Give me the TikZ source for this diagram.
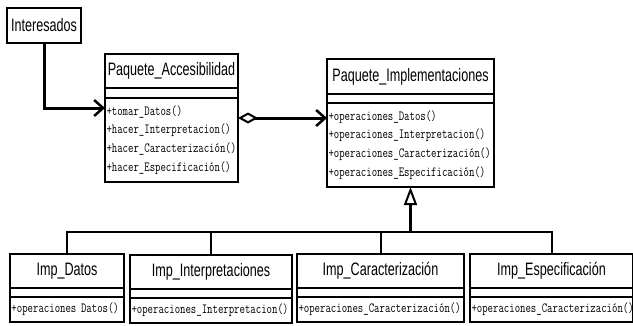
\documentclass[tikz,border=0pt]{standalone}
\usepackage{fontspec}
\usetikzlibrary{positioning,arrows.meta}
\newfontfamily\namefont[FakeStretch=0.7]{Liberation Sans}
\newfontfamily\opsfont[FakeStretch=0.75]{Latin Modern Mono}

\tikzstyle{classname} = [draw, line width=2pt, outer sep=0pt, inner sep=0pt, minimum height=34pt, font={\namefont\fontsize{18pt}{20pt}\selectfont}]
\tikzstyle{attrbox} = [draw, line width=2pt, outer sep=0pt, inner sep=0pt]
\tikzstyle{opsbox} = [draw, line width=2pt, outer sep=0pt, inner xsep=1.5pt, inner ysep=0pt, align=left, font={\opsfont\fontsize{14pt}{18.7pt}\selectfont}]
\tikzstyle{assoc} = [line width=3pt, -{Straight Barb[length=9pt,width=16pt,line width=2.5pt]}]
\tikzstyle{aggr} = [line width=3pt, {Diamond[open,length=20pt,width=11pt,line width=2pt]}-{Straight Barb[length=9pt,width=16pt,line width=2.5pt]}]
\tikzstyle{gen} = [line width=3pt, -{Triangle[open,length=18pt,width=13pt,line width=2pt]}]

\begin{document}
\begin{tikzpicture}[x=1pt, y=-1pt]
\useasboundingbox (0,0) rectangle (633,325);

% actor
\node[classname, anchor=north west, minimum width=74pt, minimum height=35pt] (inter) at (7,8) {Interesados};

% Paquete_Accesibilidad
\node[classname, anchor=north west, minimum width=133pt] (acc) at (105,54) {Paquete\_Accesibilidad};
\node[attrbox, below=0pt of acc, minimum width=133pt, minimum height=10pt] (acc_attr) {};
\node[opsbox, below=0pt of acc_attr, text width=130pt, minimum height=84pt] (acc_ops)
    {+tomar\_Datos()\\+hacer\_Interpretacion()\\+hacer\_Caracterización()\\+hacer\_Especificación()};

% Paquete_Implementaciones
\node[classname, anchor=north west, minimum width=167pt, minimum height=35pt] (impl) at (327,59) {Paquete\_Implementaciones};
\node[attrbox, below=0pt of impl, minimum width=167pt, minimum height=9pt] (impl_attr) {};
\node[opsbox, below=0pt of impl_attr, text width=164pt, minimum height=84pt] (impl_ops)
    {+operaciones\_Datos()\\+operaciones\_Interpretacion()\\+operaciones\_Caracterización()\\+operaciones\_Especificación()};

% implementaciones
\node[classname, anchor=north west, minimum width=114pt] (datos) at (10,254) {Imp\_Datos};
\node[attrbox, below=0pt of datos, minimum width=114pt, minimum height=9pt] (datos_attr) {};
\node[opsbox, below=0pt of datos_attr, text width=111pt, minimum height=25pt] (datos_ops) {+operaciones Datos()};

\node[classname, anchor=north west, minimum width=162pt] (interp) at (130,255) {Imp\_Interpretaciones};
\node[attrbox, below=0pt of interp, minimum width=162pt, minimum height=9pt] (interp_attr) {};
\node[opsbox, below=0pt of interp_attr, text width=159pt, minimum height=25pt] (interp_ops) {+operaciones\_Interpretacion()};

\node[classname, anchor=north west, minimum width=167pt] (carac) at (297,254) {Imp\_Caracterización};
\node[attrbox, below=0pt of carac, minimum width=167pt, minimum height=9pt] (carac_attr) {};
\node[opsbox, below=0pt of carac_attr, text width=164pt, minimum height=25pt] (carac_ops) {+operaciones\_Caracterización()};

\node[classname, anchor=north west, minimum width=163pt] (esp) at (470,254) {Imp\_Especificación};
\node[attrbox, below=0pt of esp, minimum width=163pt, minimum height=9pt] (esp_attr) {};
\node[opsbox, below=0pt of esp_attr, text width=160pt, minimum height=25pt] (esp_ops) {+operaciones\_Caracterización()};

% relaciones
\draw[assoc] (inter.south) |- ([yshift=32pt]acc_ops.west);
\draw[aggr] ([yshift=22pt]acc_ops.east) -- ([yshift=22pt]acc_ops.east -| impl_ops.west);

\coordinate (bus) at (410.5,232);
\draw[gen] (bus) -- (impl_ops.south);
\draw[line width=2pt] (datos.north) |- (bus);
\draw[line width=2pt] (interp.north) |- (bus);
\draw[line width=2pt] (carac.north) |- (bus);
\draw[line width=2pt] (esp.north) |- (bus);
\end{tikzpicture}
\end{document}
